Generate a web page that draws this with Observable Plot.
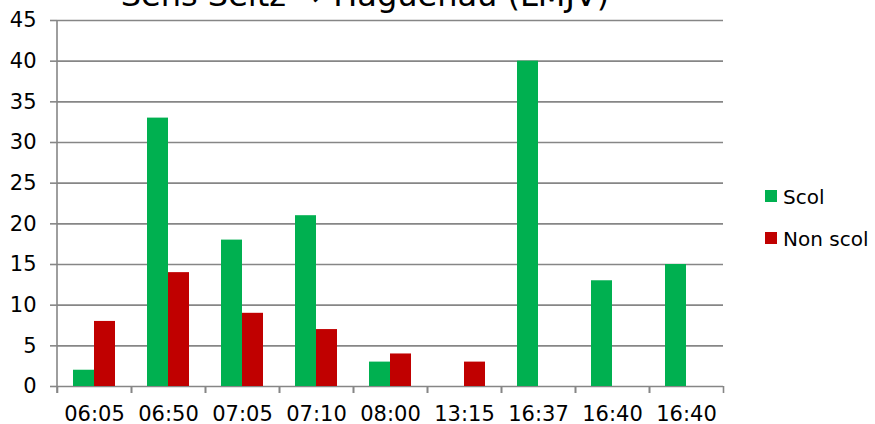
<!DOCTYPE html>
<html>
<head>
<meta charset="utf-8">
<script src="https://cdn.jsdelivr.net/npm/d3@7"></script>
<script src="https://cdn.jsdelivr.net/npm/@observablehq/plot@0.6"></script>
<style>
  html, body { margin: 0; padding: 0; background: #fff; }
  #chart { position: relative; width: 875px; height: 424px; overflow: hidden; }
</style>
</head>
<body>
<div id="chart"></div>
<script>
const title = "Sens Seltz \u2192 Haguenau (LMJV)";
const categories = ["06:05", "06:50", "07:05", "07:10", "08:00", "13:15", "16:37", "16:40", "16:40"];
const scol = [2, 33, 18, 21, 3, 0, 40, 13, 15];
const nonScol = [8, 14, 9, 7, 4, 3, 0, 0, 0];
const seriesNames = ["Scol", "Non scol"];
const seriesColors = ["#00B050", "#C00000"];
const yTicks = [0, 5, 10, 15, 20, 25, 30, 35, 40, 45];

const data = categories.flatMap((c, i) => [
  {idx: i, series: seriesNames[0], value: scol[i]},
  {idx: i, series: seriesNames[1], value: nonScol[i]}
]);

const W = 875, H = 424, mL = 57, mR = 152, mT = 20, mB = 38;
const halfBand = (W - mL - mR) / categories.length / 2;
const gray = "#868686";

const plot = Plot.plot({
  width: W, height: H,
  marginLeft: mL, marginRight: mR, marginTop: mT, marginBottom: mB,
  style: {fontFamily: "'DejaVu Sans', Verdana, sans-serif", fontSize: "21px", color: "#000", background: "#fff", overflow: "visible"},
  fx: {domain: d3.range(categories.length), padding: 0, label: null},
  x: {domain: seriesNames, paddingInner: 0, paddingOuter: 0.76, axis: null},
  y: {domain: [0, 45], axis: null},
  color: {domain: seriesNames, range: seriesColors},
  marks: [
    Plot.gridY(yTicks, {stroke: gray, strokeOpacity: 1, strokeWidth: 1.6}),
    Plot.barY(data, {fx: "idx", x: "series", y: "value", fill: "series"}),
    Plot.axisY(yTicks, {tickSize: 7, tickPadding: 14, stroke: gray, strokeOpacity: 1, strokeWidth: 1.6, fill: "#000", label: null}),
    Plot.axisFx({anchor: "bottom", tickSize: 0, tickPadding: 20, tickFormat: i => categories[i], fill: "#000", label: null}),
    Plot.axisFx({anchor: "bottom", tickSize: 7, tickFormat: () => "", stroke: gray, strokeOpacity: 1, strokeWidth: 1.6, dx: -halfBand, label: null}),
    Plot.axisFx({anchor: "bottom", tickSize: 7, tickFormat: () => "", stroke: gray, strokeOpacity: 1, strokeWidth: 1.6, dx: halfBand, label: null})
  ]
});

const svg = d3.select(plot);
const fxs = plot.scale("fx"), ys = plot.scale("y");
const x0 = fxs.apply(0);
svg.append("line")
  .attr("x1", x0).attr("x2", x0)
  .attr("y1", ys.apply(45)).attr("y2", ys.apply(0) + 7)
  .attr("stroke", gray).attr("stroke-width", 1.6);

svg.append("text")
  .attr("x", 365).attr("y", 6)
  .attr("text-anchor", "middle")
  .attr("font-size", 32)
  .attr("fill", "#000")
  .text(title);

const leg = svg.append("g").attr("text-anchor", "start");
seriesNames.forEach((name, i) => {
  const g = leg.append("g").attr("transform", `translate(765, ${190 + i * 42})`);
  g.append("rect").attr("width", 12).attr("height", 12).attr("fill", seriesColors[i]);
  g.append("text").attr("x", 18).attr("y", 14).attr("text-anchor", "start").attr("font-size", 20).attr("fill", "#000").text(name);
});

document.getElementById("chart").appendChild(plot);
</script>
</body>
</html>
